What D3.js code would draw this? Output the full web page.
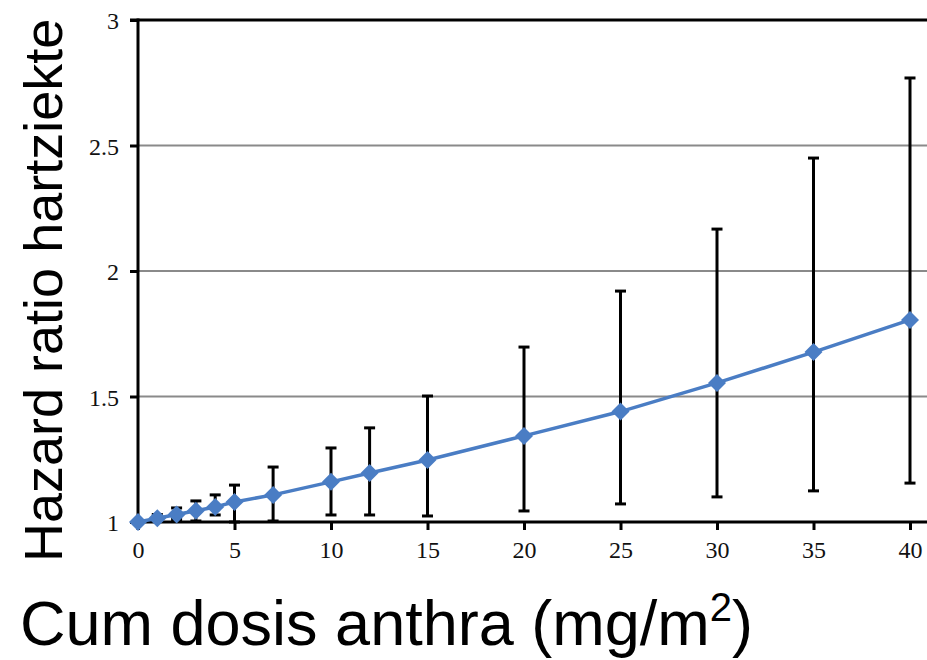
<!DOCTYPE html>
<html>
<head>
<meta charset="utf-8">
<script src="https://cdn.jsdelivr.net/npm/d3@7"></script>
<style>
  html, body { margin: 0; padding: 0; background: #fff; }
  svg { display: block; }
</style>
</head>
<body>
<svg id="chart" width="927" height="660"></svg>
<script>
// Cumulative anthracycline dose (mg/m²) and hazard ratio for heart disease, with 95% CI
const doses   = [0, 1, 2, 3, 4, 5, 7, 10, 12, 15, 20, 25, 30, 35, 40];
const hazard  = [1.0, 1.015, 1.03, 1.045, 1.06, 1.08, 1.108, 1.16, 1.195, 1.247, 1.343, 1.44, 1.554, 1.677, 1.805];
const ciLower = [1.0, 1.005, 1.01, 1.004, 1.028, 1.0, 1.004, 1.028, 1.028, 1.024, 1.044, 1.072, 1.10, 1.124, 1.155];
const ciUpper = [1.0, 1.03, 1.056, 1.084, 1.108, 1.147, 1.219, 1.295, 1.375, 1.502, 1.697, 1.92, 2.167, 2.45, 2.769];
const xTicks  = [0, 5, 10, 15, 20, 25, 30, 35, 40];
const yTicks  = [1, 1.5, 2, 2.5, 3];
const xTitle  = "Cum dosis anthra (mg/m";
const xTitleSup = "2";
const yTitle  = "Hazard ratio hartziekte";

(function () {
  const svg = d3.select("#chart");
  const W = 927;
  const plotLeft = 138, plotTop = 20, plotBottom = 522, xEnd = 910;

  const x = d3.scaleLinear().domain([0, 40]).range([plotLeft, xEnd]);
  const y = d3.scaleLinear().domain([1, 3]).range([plotBottom, plotTop]);

  const serif = "'Liberation Serif', 'Times New Roman', serif";
  const sans = "'Liberation Sans', Arial, sans-serif";

  // horizontal gridlines (1.5, 2, 2.5) and heavy top border at 3
  const grid = svg.append("g");
  grid.selectAll("line.grid")
    .data(yTicks.filter(t => t > 1 && t < 3))
    .join("line")
    .attr("x1", plotLeft).attr("x2", W)
    .attr("y1", d => y(d)).attr("y2", d => y(d))
    .attr("stroke", "#8a8a8a").attr("stroke-width", 2);
  grid.append("line")
    .attr("x1", plotLeft - 8).attr("x2", W)
    .attr("y1", y(3)).attr("y2", y(3))
    .attr("stroke", "#000").attr("stroke-width", 3);

  // y axis
  const yAxis = svg.append("g")
    .attr("transform", `translate(${plotLeft},0)`)
    .call(d3.axisLeft(y).tickValues(yTicks).tickSize(8).tickPadding(11)
      .tickFormat(d3.format("")));
  yAxis.select(".domain").attr("stroke", "#000").attr("stroke-width", 3)
    .attr("d", `M0,${plotTop - 1.5}V${plotBottom + 8}`);
  yAxis.selectAll(".tick line").attr("stroke", "#000").attr("stroke-width", 3);
  yAxis.selectAll(".tick text")
    .attr("font-family", serif).attr("font-size", 24).attr("fill", "#111")
    .attr("dy", "0.36em");

  // x axis
  const xAxis = svg.append("g")
    .attr("transform", `translate(0,${plotBottom})`)
    .call(d3.axisBottom(x).tickValues(xTicks).tickSize(8).tickPadding(11)
      .tickFormat(d3.format("")));
  xAxis.select(".domain").attr("stroke", "#000").attr("stroke-width", 3)
    .attr("d", `M${plotLeft - 1.5},0H${W}`);
  xAxis.selectAll(".tick line").attr("stroke", "#000").attr("stroke-width", 3);
  xAxis.selectAll(".tick text")
    .attr("font-family", serif).attr("font-size", 24).attr("fill", "#111");

  // confidence interval error bars
  const pts = doses.map((d, i) => ({ d, h: hazard[i], lo: ciLower[i], hi: ciUpper[i] }));
  const bars = svg.append("g").attr("stroke", "#000").attr("stroke-width", 3);
  const capW = 5.5;
  pts.filter(p => p.hi > p.lo).forEach(p => {
    const cx = x(p.d);
    bars.append("line").attr("x1", cx).attr("x2", cx).attr("y1", y(p.lo)).attr("y2", y(p.hi));
    bars.append("line").attr("x1", cx - capW).attr("x2", cx + capW).attr("y1", y(p.hi)).attr("y2", y(p.hi));
    bars.append("line").attr("x1", cx - capW).attr("x2", cx + capW).attr("y1", y(p.lo)).attr("y2", y(p.lo));
  });

  // hazard ratio line
  const blue = "#4A7DC4";
  svg.append("path")
    .datum(pts)
    .attr("fill", "none").attr("stroke", blue).attr("stroke-width", 3.5)
    .attr("d", d3.line().x(p => x(p.d)).y(p => y(p.h)));

  // diamond markers
  const r = 9;
  svg.append("g").selectAll("path")
    .data(pts)
    .join("path")
    .attr("fill", blue)
    .attr("d", p => {
      const cx = x(p.d), cy = y(p.h);
      return `M${cx},${cy - r}L${cx + r},${cy}L${cx},${cy + r}L${cx - r},${cy}Z`;
    });

  // axis titles
  svg.append("text")
    .attr("transform", "translate(62,562) rotate(-90)")
    .attr("font-family", sans).attr("font-size", 54).attr("fill", "#000")
    .text(yTitle);

  const xt = svg.append("text")
    .attr("x", 20).attr("y", 645)
    .attr("font-family", sans).attr("font-size", 63).attr("fill", "#000");
  xt.append("tspan").text(xTitle);
  xt.append("tspan").attr("font-size", 40).attr("dy", -24).text(xTitleSup);
  xt.append("tspan").attr("dy", 24).text(")");
})();
</script>
</body>
</html>
